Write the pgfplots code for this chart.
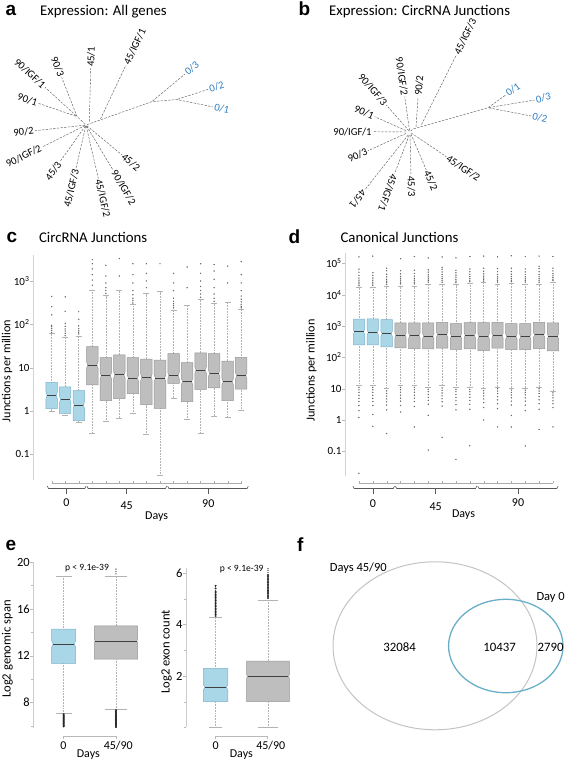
\documentclass[border=0pt]{standalone}
\usepackage{fontspec}
\setmainfont{Carlito}
\newfontfamily\arialf{Liberation Sans}
\usepackage{pgfplots}
\pgfplotsset{compat=1.18}
\definecolor{bfill}{RGB}{170,215,232}
\definecolor{bdraw}{RGB}{125,178,200}
\definecolor{gfill}{RGB}{190,190,190}
\definecolor{gdraw}{RGB}{150,150,150}
\definecolor{tblue}{RGB}{45,125,195}
\definecolor{vblue}{RGB}{105,175,200}
\definecolor{vgray}{RGB}{195,195,195}
\definecolor{tline}{RGB}{95,95,95}
\pgfplotsset{
 bbox/.style={fill=bfill, draw=bdraw, line width=0.5pt},
 gbox/.style={fill=gfill, draw=gdraw, line width=0.5pt},
 whisk/.style={gray!60, densely dotted, line width=0.55pt},
 capl/.style={gray!60, line width=0.5pt},
 medl/.style={black!75, line width=0.9pt},
 outl/.style={only marks, mark=*, mark size=0.45pt, black!60},
 doutl/.style={only marks, mark=*, mark size=0.75pt, black!85},
 tree/.style={tline, dash pattern=on 2.4pt off 1.3pt, dash phase=2.6pt, line width=0.45pt},
}
\tikzset{tlab/.style={font=\fontsize{10.6}{10.6}\selectfont, inner sep=1.2pt}}
\newcommand\mknlog[1]{\pgfmathsetmacro\nlo{#1/\nf}\pgfmathsetmacro\nhi{#1*\nf}}
\newcommand\mknlin[1]{\pgfmathsetmacro\nlo{#1-\nh}\pgfmathsetmacro\nhi{#1+\nh}}
% x, lower whisker, q1, median, q3, upper whisker, style
\newcommand\bx[7]{%
 \pgfmathsetmacro\xl{#1-\bhw}\pgfmathsetmacro\xr{#1+\bhw}%
 \pgfmathsetmacro\xnl{#1-\bhw+\bnd}\pgfmathsetmacro\xnr{#1+\bhw-\bnd}%
 \pgfmathsetmacro\xcl{#1-\chw}\pgfmathsetmacro\xcr{#1+\chw}%
 \mkn{#4}%
 \edef\tmp{%
  \noexpand\addplot[whisk] coordinates {(#1,#2)(#1,#3)};%
  \noexpand\addplot[whisk] coordinates {(#1,#5)(#1,#6)};%
  \noexpand\addplot[capl] coordinates {(\xcl,#2)(\xcr,#2)};%
  \noexpand\addplot[capl] coordinates {(\xcl,#6)(\xcr,#6)};%
  \noexpand\addplot[#7] coordinates {(\xl,#3)(\xr,#3)(\xr,\nlo)(\xnr,#4)(\xr,\nhi)(\xr,#5)(\xl,#5)(\xl,\nhi)(\xnl,#4)(\xl,\nlo)} -- cycle;%
  \noexpand\addplot[medl] coordinates {(\xnl,#4)(\xnr,#4)};%
 }\tmp}
% outliers: x, comma list of values
\newcommand\outl[3][outl]{%
 \gdef\crd{}%
 \foreach \ov in {#3}{\xdef\crd{\crd(#2,\ov)}}%
 \edef\tmp{\noexpand\addplot[#1] coordinates {\crd};}\tmp}
\begin{document}
\begin{tikzpicture}
\useasboundingbox (0,0) rectangle (567pt,761pt);
% ================= canvas (trees, venn, labels) =================
\begin{axis}[at={(0pt,0pt)}, anchor=south west, scale only axis, width=567pt, height=761pt,
 xmin=0, xmax=567, ymin=0, ymax=761, y dir=reverse, hide axis, clip=false]
% ---- panel letters and titles
\node[anchor=base west, font=\arialf\bfseries\fontsize{19}{19}\selectfont] at (axis cs:2,15.5) {a};
\node[anchor=base west, font=\fontsize{14.8}{14.8}\selectfont] at (axis cs:36.7,15.7) {Expression: All genes};
\node[anchor=base west, font=\arialf\bfseries\fontsize{19}{19}\selectfont] at (axis cs:295,15.5) {b};
\node[anchor=base west, font=\fontsize{14.8}{14.8}\selectfont] at (axis cs:325.7,15.7) {Expression: CircRNA Junctions};
\node[anchor=base west, font=\arialf\bfseries\fontsize{19}{19}\selectfont] at (axis cs:3,242.5) {c};
\node[anchor=base west, font=\fontsize{14.8}{14.8}\selectfont] at (axis cs:35.5,242.3) {CircRNA Junctions};
\node[anchor=base west, font=\arialf\bfseries\fontsize{19}{19}\selectfont] at (axis cs:285,243) {d};
\node[anchor=base west, font=\fontsize{14.8}{14.8}\selectfont] at (axis cs:337,242.3) {Canonical Junctions};
\node[anchor=base west, font=\arialf\bfseries\fontsize{19}{19}\selectfont] at (axis cs:2,550) {e};
\node[anchor=base west, font=\arialf\bfseries\fontsize{19}{19}\selectfont] at (axis cs:293.5,551.7) {f};
% ---- tree a
\addplot[tree] coordinates {(86,125)(151.7,101.7)(176.7,99.5)(213.3,107)};
\addplot[tree] coordinates {(151.7,101.7)(185,74)};
\addplot[tree] coordinates {(176.7,99.5)(208.3,89.3)};
\addplot[tree] coordinates {(100,120)(126,65)};
\addplot[tree] coordinates {(89.3,122.7)(90.7,68.3)};
\addplot[tree] coordinates {(86,125)(77,116.5)(61.7,77.3)};
\addplot[tree] coordinates {(77,116.5)(45,87.3)};
\addplot[tree] coordinates {(77,116.5)(38.3,103.3)};
\addplot[tree] coordinates {(86,125)(35,130.7)};
\addplot[tree] coordinates {(86,125)(42,147)};
\addplot[tree] coordinates {(86,125)(60,161.7)};
\addplot[tree] coordinates {(86,125)(76,168.3)};
\addplot[tree] coordinates {(86,125)(98.3,178.3)};
\addplot[tree] coordinates {(86,125)(113,170)};
\addplot[tree] coordinates {(86,125)(122,155)};
\node[tlab, text=tblue, anchor=west, rotate=40] at (axis cs:185,74) {0/3};
\node[tlab, text=tblue, anchor=west, rotate=18] at (axis cs:208.3,89.3) {0/2};
\node[tlab, text=tblue, anchor=west, rotate=-12] at (axis cs:213.3,107) {0/1};
\node[tlab, anchor=west, rotate=64.7] at (axis cs:126,65) {45/IGF/1};
\node[tlab, anchor=west, rotate=88.5] at (axis cs:90.7,68.3) {45/1};
\node[tlab, anchor=east, rotate=-68.7] at (axis cs:61.7,77.3) {90/3};
\node[tlab, anchor=east, rotate=-42.4] at (axis cs:45,87.3) {90/IGF/1};
\node[tlab, anchor=east, rotate=-18.8] at (axis cs:38.3,103.3) {90/1};
\node[tlab, anchor=east, rotate=6.4] at (axis cs:35,130.7) {90/2};
\node[tlab, anchor=east, rotate=26.6] at (axis cs:42,147) {90/IGF/2};
\node[tlab, anchor=east, rotate=54.7] at (axis cs:60,161.7) {45/3};
\node[tlab, anchor=east, rotate=77] at (axis cs:76,168.3) {45/IGF/3};
\node[tlab, anchor=west, rotate=-77] at (axis cs:98.3,178.3) {45/IGF/2};
\node[tlab, anchor=west, rotate=-59] at (axis cs:113,170) {90/IGF/2};
\node[tlab, anchor=west, rotate=-39.8] at (axis cs:122,155) {45/2};
% ---- tree b
\addplot[tree] coordinates {(409.7,131.7)(413,129)(488,107.7)(505.7,95)};
\addplot[tree] coordinates {(488,107.7)(534.7,100)};
\addplot[tree] coordinates {(488,107.7)(531.3,116)};
\addplot[tree] coordinates {(421,125.5)(456.3,55)};
\addplot[tree] coordinates {(416,128)(418,97)};
\addplot[tree] coordinates {(409.7,131.7)(404.7,96.7)};
\addplot[tree] coordinates {(409.7,131.7)(386.3,105)};
\addplot[tree] coordinates {(407,131)(374.7,116.7)};
\addplot[tree] coordinates {(407,132)(373,131.7)};
\addplot[tree] coordinates {(407,133)(368,150.7)};
\addplot[tree] coordinates {(409,134)(364.7,190)};
\addplot[tree] coordinates {(409.7,134)(394.7,173.3)};
\addplot[tree] coordinates {(410,134)(411,175)};
\addplot[tree] coordinates {(410.5,133)(426.3,170)};
\addplot[tree] coordinates {(410.5,132.5)(446.3,156.7)};
\node[tlab, text=tblue, anchor=west, rotate=35.6] at (axis cs:505.7,95) {0/1};
\node[tlab, text=tblue, anchor=west, rotate=13] at (axis cs:534.7,100) {0/3};
\node[tlab, text=tblue, anchor=west, rotate=-13] at (axis cs:531.3,116) {0/2};
\node[tlab, anchor=west, rotate=64.2] at (axis cs:456.3,55) {45/IGF/3};
\node[tlab, anchor=west, rotate=84.8] at (axis cs:418,97) {90/2};
\node[tlab, anchor=east, rotate=-81.9] at (axis cs:404.7,96.7) {90/IGF/2};
\node[tlab, anchor=east, rotate=-48.8] at (axis cs:386.3,105) {90/IGF/3};
\node[tlab, anchor=east, rotate=-23.2] at (axis cs:374.7,116.7) {90/1};
\node[tlab, anchor=east, rotate=0] at (axis cs:373,131.7) {90/IGF/1};
\node[tlab, anchor=east, rotate=24.5] at (axis cs:368,150.7) {90/3};
\node[tlab, anchor=west, rotate=232.3] at (axis cs:364.7,190) {45/1};
\node[tlab, anchor=west, rotate=250.2] at (axis cs:394.7,173.3) {45/IGF/1};
\node[tlab, anchor=west, rotate=-88.3] at (axis cs:411,175) {45/3};
\node[tlab, anchor=west, rotate=-66.6] at (axis cs:426.3,170) {45/2};
\node[tlab, anchor=west, rotate=-34.3] at (axis cs:446.3,156.7) {45/IGF/2};
% ---- c: y label and day brackets
\node[rotate=90, font=\fontsize{12.2}{12.2}\selectfont] at (axis cs:7,371) {Junctions per million};
\addplot[gray!65, line width=0.5pt] coordinates {(51.7,483.5)(241.3,483.5)};
\addplot[gray!65, only marks, mark=|, mark size=1.1pt] coordinates {(51.7,482.4)(65.24,482.4)(78.78,482.4)(92.32,482.4)(105.86,482.4)(119.4,482.4)(132.94,482.4)(146.48,482.4)(160.02,482.4)(173.56,482.4)(187.1,482.4)(200.64,482.4)(214.18,482.4)(227.72,482.4)(241.26,482.4)};
\addplot[gray!70!black, line width=0.6pt] coordinates {(47.3,486.2)(48.5,488.5)(84.8,488.5)(86,486.2)};
\addplot[gray!70!black, line width=0.6pt] coordinates {(87,486.2)(88.2,488.5)(165.5,488.5)(166.7,486.2)};
\addplot[gray!70!black, line width=0.6pt] coordinates {(167.7,486.2)(168.9,488.5)(247.1,488.5)(248.3,486.2)};
\addplot[gray!70!black, line width=0.6pt] coordinates {(66,488.5)(66,494.3)};
\addplot[gray!70!black, line width=0.6pt] coordinates {(126.7,488.5)(126.7,494.3)};
\addplot[gray!70!black, line width=0.6pt] coordinates {(208.3,488.5)(208.3,494.3)};
\node[anchor=base, font=\fontsize{12}{12}\selectfont] at (axis cs:66.5,506) {0};
\node[anchor=base, font=\fontsize{12}{12}\selectfont] at (axis cs:126.7,509) {45};
\node[anchor=base, font=\fontsize{12}{12}\selectfont] at (axis cs:208.3,507) {90};
\node[anchor=base, font=\fontsize{12}{12}\selectfont] at (axis cs:156.7,519.5) {Days};
% ---- d: y label and day brackets
\node[rotate=90, font=\fontsize{12.2}{12.2}\selectfont] at (axis cs:311.3,370.5) {Junctions per million};
\addplot[gray!65, line width=0.5pt] coordinates {(359,483.3)(553,483.3)};
\addplot[gray!65, only marks, mark=|, mark size=1.1pt] coordinates {(359,482.2)(372.86,482.2)(386.72,482.2)(400.58,482.2)(414.44,482.2)(428.3,482.2)(442.16,482.2)(456.02,482.2)(469.88,482.2)(483.74,482.2)(497.6,482.2)(511.46,482.2)(525.32,482.2)(539.18,482.2)(553.04,482.2)};
\addplot[gray!70!black, line width=0.6pt] coordinates {(353,486.2)(354.2,488.5)(393.3,488.5)(394.5,486.2)};
\addplot[gray!70!black, line width=0.6pt] coordinates {(395.5,486.2)(396.7,488.5)(475.6,488.5)(476.8,486.2)};
\addplot[gray!70!black, line width=0.6pt] coordinates {(477.8,486.2)(479,488.5)(556.8,488.5)(558,486.2)};
\addplot[gray!70!black, line width=0.6pt] coordinates {(373,488.5)(373,494.3)};
\addplot[gray!70!black, line width=0.6pt] coordinates {(435.7,488.5)(435.7,494.3)};
\addplot[gray!70!black, line width=0.6pt] coordinates {(518,488.5)(518,494.3)};
\node[anchor=base, font=\fontsize{12}{12}\selectfont] at (axis cs:373,507) {0};
\node[anchor=base, font=\fontsize{12}{12}\selectfont] at (axis cs:435.7,510) {45};
\node[anchor=base, font=\fontsize{12}{12}\selectfont] at (axis cs:518,506.7) {90};
\node[anchor=base, font=\fontsize{12}{12}\selectfont] at (axis cs:463.5,517.5) {Days};
% ---- e: labels
\node[rotate=90, font=\fontsize{12.6}{12.6}\selectfont] at (axis cs:7.3,649) {Log2 genomic span};
\node[rotate=90, font=\fontsize{12.6}{12.6}\selectfont] at (axis cs:166.7,652) {Log2 exon count};
\node[anchor=base, font=\fontsize{9.6}{9.6}\selectfont] at (axis cs:87,570) {p < 9.1e-39};
\node[anchor=base, font=\fontsize{9.6}{9.6}\selectfont] at (axis cs:241.7,571.7) {p < 9.1e-39};
\addplot[gray!55, line width=0.5pt] coordinates {(63.3,739)(63.3,736)(116.7,736)(116.7,739)};
\addplot[gray!55, line width=0.5pt] coordinates {(215.7,739)(215.7,736)(267.7,736)(267.7,739)};
\node[anchor=base, font=\fontsize{12}{12}\selectfont] at (axis cs:63.3,749.3) {0};
\node[anchor=base, font=\fontsize{12}{12}\selectfont] at (axis cs:118.3,749.3) {45/90};
\node[anchor=base, font=\fontsize{12}{12}\selectfont] at (axis cs:88.3,757.5) {Days};
\node[anchor=base, font=\fontsize{12}{12}\selectfont] at (axis cs:215.7,749.3) {0};
\node[anchor=base, font=\fontsize{12}{12}\selectfont] at (axis cs:270.8,749.3) {45/90};
\node[anchor=base, font=\fontsize{12}{12}\selectfont] at (axis cs:241.3,757.5) {Days};
% ---- f: Venn diagram
\draw[vgray, line width=1pt] (axis cs:435,645.8) ellipse [x radius=102pt, y radius=84pt];
\draw[vblue, line width=1.3pt] (axis cs:505.8,646) ellipse [x radius=57.2pt, y radius=46.7pt];
\node[anchor=base west, font=\fontsize{12.5}{12.5}\selectfont] at (axis cs:326.3,571.7) {Days 45/90};
\node[anchor=base west, font=\fontsize{12.5}{12.5}\selectfont] at (axis cs:533,600.7) {Day 0};
\node[anchor=base, font=\fontsize{12.8}{12.8}\selectfont] at (axis cs:399.7,651.7) {32084};
\node[anchor=base, font=\fontsize{12.8}{12.8}\selectfont] at (axis cs:499.7,651.7) {10437};
\node[anchor=base, font=\fontsize{12.8}{12.8}\selectfont] at (axis cs:550.7,651.7) {2790};
\end{axis}
% ================= c: CircRNA junctions =================
\begin{axis}[at={(33pt,280.6pt)}, anchor=south west, scale only axis, width=215pt, height=225.5pt,
 xmin=-0.38, xmax=15.5, ymode=log, ymin=0.025, ymax=4000, clip=false,
 axis x line=none, axis y line*=left, y axis line style={gray!35},
 ytick={0.1,1,10,100,1000}, yticklabels={0.1,1,10,10\textsuperscript{2},10\textsuperscript{3}},
 yminorticks=false, tick align=outside, major tick length=3pt, ytick style={gray!55},
 yticklabel style={font=\fontsize{11}{11}\selectfont, xshift=3pt}]
\let\mkn\mknlog \def\nf{1.2}\def\bhw{0.425}\def\bnd{0.09}\def\chw{0.22}
\bx{1}{1.0}{1.13}{2.3}{4.6}{62}{bbox}
\bx{2}{0.8}{0.88}{1.86}{3.6}{49}{bbox}
\bx{3}{0.55}{0.6}{1.37}{2.95}{54}{bbox}
\bx{4}{0.3}{4.0}{11.5}{30.5}{620}{gbox}
\bx{5}{0.57}{1.73}{6.5}{17}{460}{gbox}
\bx{6}{0.69}{1.93}{6.8}{19.6}{600}{gbox}
\bx{7}{0.88}{2.5}{5.7}{17}{290}{gbox}
\bx{8}{0.29}{1.4}{6.0}{15.8}{510}{gbox}
\bx{9}{0.033}{1.15}{5.7}{15}{570}{gbox}
\bx{10}{2.0}{4.35}{6.5}{21}{215}{gbox}
\bx{11}{0.64}{1.64}{4.75}{13}{280}{gbox}
\bx{12}{0.3}{3.16}{8.8}{21.8}{385}{gbox}
\bx{13}{0.77}{3.4}{7.4}{21}{305}{gbox}
\bx{14}{0.7}{1.73}{4.75}{14.2}{315}{gbox}
\bx{15}{1.04}{3.2}{6.5}{17.3}{225}{gbox}
\outl{1}{65,72,80,88,95,165,255,440}
\outl{2}{55,62,70,78,90,105,200,430}
\outl{3}{60,66,72,80,92,130,195}
\outl{4}{800,1050,1400,1900,2500,3100}
\outl{5}{520,600,700,900,1300,2300}
\outl{6}{1300,3300}
\outl{7}{310,350,400,480,600,900,1400,2500}
\outl{8}{700,1000,1500,2500}
\outl{9}{2500}
\outl{10}{240,270,300,340,400,600,900,1500}
\outl{11}{700,2100}
\outl{12}{420,500,600,750,1000,1500,2500}
\outl{13}{340,400,500,700,1100,1700,2400}
\outl{14}{900,2200}
\outl{15}{240,260,290,330,380,450,600,900,1400,2800}
\end{axis}
% ================= d: canonical junctions =================
\begin{axis}[at={(345.1pt,284.6pt)}, anchor=south west, scale only axis, width=214.1pt, height=223.8pt,
 xmin=0, xmax=15.45, ymode=log, ymin=0.01585, ymax=220000, clip=false,
 axis x line=none, axis y line*=left, y axis line style={gray!35},
 ytick={0.1,1,10,100,1000,10000,100000},
 yticklabels={0.1,1,10,10\textsuperscript{2},10\textsuperscript{3},10\textsuperscript{4},10\textsuperscript{5}},
 yminorticks=false, tick align=outside, major tick length=3pt, ytick style={gray!55},
 yticklabel style={font=\fontsize{11}{11}\selectfont, xshift=3pt}]
\let\mkn\mknlog \def\nf{1.22}\def\bhw{0.41}\def\bnd{0.08}\def\chw{0.2}
\bx{1}{13}{250}{650}{1650}{17000}{bbox}
\bx{2}{13}{250}{620}{1700}{17000}{bbox}
\bx{3}{10}{215}{570}{1600}{18000}{bbox}
\bx{4}{13}{200}{510}{1250}{19000}{gbox}
\bx{5}{13}{190}{490}{1250}{19000}{gbox}
\bx{6}{11}{185}{480}{1250}{22000}{gbox}
\bx{7}{12.5}{195}{530}{1300}{22000}{gbox}
\bx{8}{11}{180}{480}{1200}{21000}{gbox}
\bx{9}{11}{185}{500}{1280}{23000}{gbox}
\bx{10}{10}{165}{470}{1280}{24000}{gbox}
\bx{11}{11.5}{195}{490}{1300}{22000}{gbox}
\bx{12}{10.5}{175}{460}{1200}{23000}{gbox}
\bx{13}{10.5}{175}{455}{1200}{22000}{gbox}
\bx{14}{11.5}{190}{520}{1300}{22000}{gbox}
\bx{15}{8.5}{160}{470}{1250}{25000}{gbox}
\outl{1}{19500,22000,25000,29000,34000,41000,52000,65000,160000,11,9.2,7.6,6.1,4.9,3.9,2.9,2.0,1.2,0.02}
\outl{2}{19500,22000,25000,29000,34000,41000,50000,170000,11,9.2,7.6,6.1,4.9,3.9,2.9,1.5,0.63}
\outl{3}{21000,24000,27000,31000,37000,45000,58000,70000,8.5,7,5.8,4.7,3.8,3.0,2.1,0.37}
\outl{4}{22000,25000,29000,33000,38000,46000,58000,140000,11,9.3,7.7,6.2,5.0,4.0,2.9,1.8}
\outl{5}{22000,25000,29000,33000,39000,47000,60000,165000,11,9.3,7.7,6.2,5.0,3.9,2.7,0.6}
\outl{6}{25000,28000,32000,37000,43000,52000,62000,150000,9.5,8,6.6,5.3,4.2,3.2,1.4,0.11}
\outl{7}{25000,28000,32000,37000,44000,53000,65000,75000,160000,10.5,8.8,7.3,5.9,4.8,3.8,2.8,0.28}
\outl{8}{24000,27000,31000,36000,42000,50000,60000,150000,9.5,8,6.5,5.2,4.1,3.1,2.1,0.055}
\outl{9}{26000,29000,33000,38000,45000,54000,66000,165000,9.5,8,6.6,5.3,4.2,3.2,2.2,0.15}
\outl{10}{27000,30000,34000,39000,46000,56000,70000,170000,8.6,7.2,5.9,4.7,3.6,2.5,1.0}
\outl{11}{25000,28000,32000,37000,44000,54000,68000,160000,10,8.4,7,5.6,4.4,3.3,2.3,0.6}
\outl{12}{26000,29000,33000,38000,45000,55000,70000,175000,9,7.6,6.3,5.1,4,3,1.4,0.6}
\outl{13}{25000,28000,32000,37000,44000,53000,66000,165000,9,7.6,6.3,5.1,4,3,2,0.15}
\outl{14}{25000,28000,32000,37000,44000,54000,68000,80000,170000,10,8.4,7,5.6,4.4,3.3,2.2,0.5}
\outl{15}{28000,31000,35000,40000,47000,57000,70000,165000,7.3,6.2,5.1,4.1,3.3,2.5,0.6}
\end{axis}
% ================= e left: genomic span =================
\begin{axis}[at={(33.3pt,32.8pt)}, anchor=south west, scale only axis, width=108.8pt, height=166.1pt,
 xmin=0.419, xmax=2.5, ymin=5.8, ymax=20, clip=false,
 axis x line=none, axis y line*=left, y axis line style={gray!40},
 ytick={8,12,16,20}, minor ytick={6,10,14,18}, tick align=outside, major tick length=3pt, minor tick length=2pt,
 ytick style={gray!55}, minor tick style={gray!55},
 /pgf/number format/assume math mode=true,
 yticklabel style={font=\fontsize{12.5}{12.5}\selectfont, xshift=3pt}]
\let\mkn\mknlin
\def\bhw{0.23}\def\bnd{0.03}\def\chw{0.15}\def\nh{0.28}
\bx{1}{7.08}{11.35}{13.0}{14.26}{18.75}{bbox}
\def\bhw{0.415}\def\bnd{0.02}\def\chw{0.21}\def\nh{0.15}
\bx{2}{7.42}{11.7}{13.25}{14.54}{18.75}{gbox}
\outl[doutl]{1}{5.95,6.02,6.09,6.16,6.23,6.30,6.37,6.44,6.51,6.58,6.65,6.72,6.79,6.86,6.93,7.0}
\outl[doutl]{2}{5.90,5.98,6.06,6.14,6.22,6.30,6.38,6.46,6.54,6.62,6.70,6.78,6.86,6.94,7.02,7.10,7.18,7.26,7.34}
\outl{2}{19.0,19.2,19.4}
\end{axis}
% ================= e right: exon count =================
\begin{axis}[at={(186pt,33.5pt)}, anchor=south west, scale only axis, width=104pt, height=159.7pt,
 xmin=0.435, xmax=2.42, ymin=0, ymax=6.2, clip=false,
 axis x line=none, axis y line*=left, y axis line style={gray!40},
 ytick={2,4,6}, minor ytick={0,1,3,5}, tick align=outside, major tick length=3pt, minor tick length=2pt,
 ytick style={gray!55}, minor tick style={gray!55},
 /pgf/number format/assume math mode=true,
 yticklabel style={font=\fontsize{12.5}{12.5}\selectfont, xshift=3pt}]
\let\mkn\mknlin
\def\bhw{0.233}\def\bnd{0.03}\def\chw{0.13}\def\nh{0.1}
\bx{1}{0}{1.0}{1.56}{2.3}{4.27}{bbox}
\def\bhw{0.406}\def\bnd{0.02}\def\chw{0.19}\def\nh{0.06}
\bx{2}{0}{1.0}{1.98}{2.58}{4.95}{gbox}
\outl[doutl]{1}{4.33,4.39,4.45,4.51,4.57,4.63,4.69,4.75,4.81,4.87,4.93,4.99,5.05,5.11,5.17,5.23,5.29,5.40,5.50}
\outl[doutl]{2}{5.02,5.08,5.14,5.20,5.26,5.32,5.38,5.44,5.50,5.56,5.62,5.68,5.74,5.80,5.86,5.92}
\outl{2}{6.02,6.1,6.17}
\end{axis}
\end{tikzpicture}
\end{document}
